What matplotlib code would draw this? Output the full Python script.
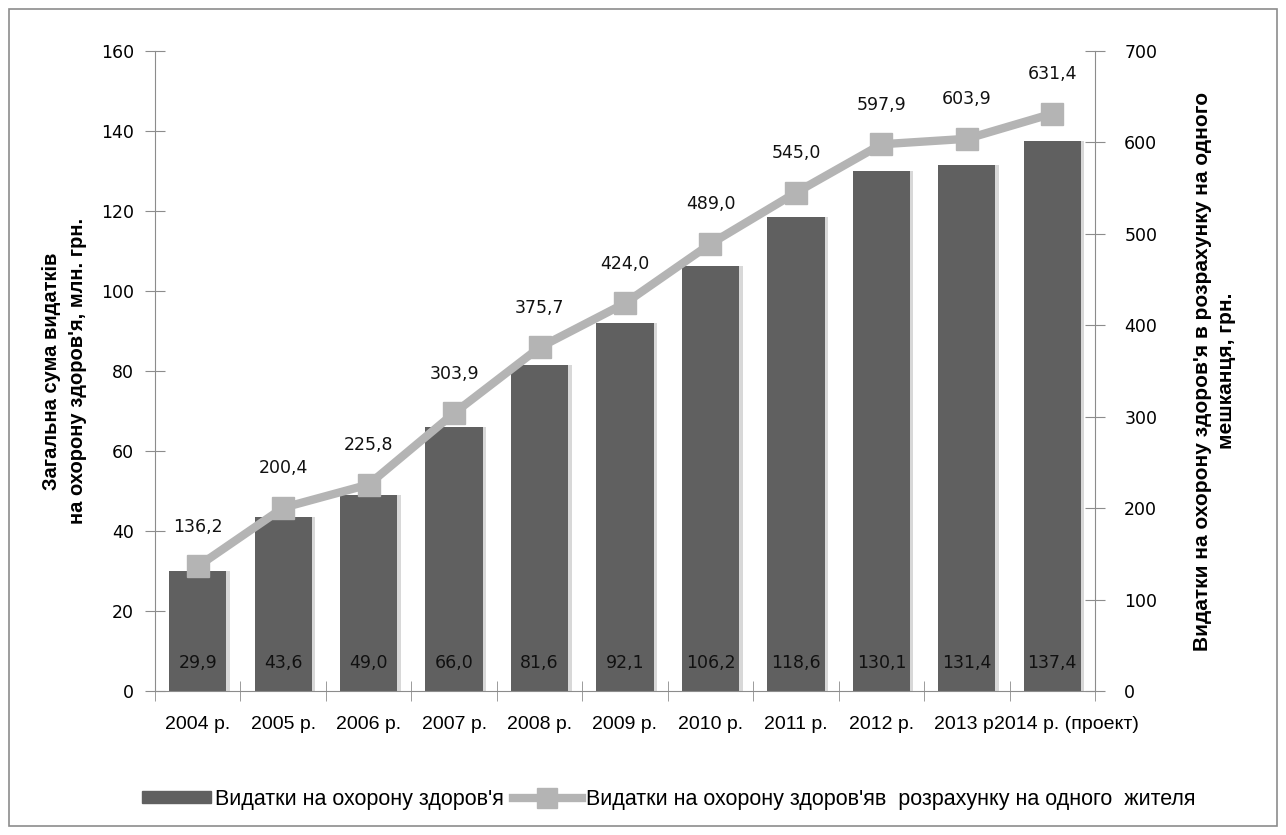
import matplotlib.pyplot as plt
from matplotlib.patches import Rectangle
from matplotlib.lines import Line2D
import numpy as np

years = ["2004 р.", "2005 р.", "2006 р.", "2007 р.", "2008 р.", "2009 р.",
         "2010 р.", "2011 р.", "2012 р.", "2013 р.", "2014 р. (проект)"]
total = [29.9, 43.6, 49.0, 66.0, 81.6, 92.1, 106.2, 118.6, 130.1, 131.4, 137.4]
per_capita = [136.2, 200.4, 225.8, 303.9, 375.7, 424.0, 489.0, 545.0, 597.9, 603.9, 631.4]

BAR = "#606060"
LINE = "#b4b4b4"
AXC = "#8c8c8c"
narrow = ["Liberation Sans", "DejaVu Sans"]


def fmt(v):
    return f"{v:.1f}".replace(".", ",")


fig = plt.figure(figsize=(12.86, 8.35), dpi=100)
fig.patches.append(Rectangle((0.007, 0.011), 0.986, 0.978, transform=fig.transFigure,
                             fill=False, edgecolor="#8c8c8c", linewidth=1.2))
ax = fig.add_axes([0.1205, 0.1725, 0.731, 0.7665])
x = np.arange(len(years))

# shadow + bars
ax.bar(x + 0.04, total, width=0.67, color="#d8d8d8", zorder=1)
ax.bar(x, total, width=0.67, color=BAR, zorder=2)
for i, v in enumerate(total):
    ax.text(i, 7, fmt(v), ha="center", va="center", fontsize=12.5, color="#111111", zorder=3)

ax.set_xlim(-0.5, len(years) - 0.5)
ax.set_ylim(0, 160)
ax.set_yticks(np.arange(0, 161, 20))
ax.set_xticks(x)
# last label is placed by hand, a bit to the right, so it does not run into 2013
ax.set_xticklabels(years[:-1] + [""], fontsize=14, family=narrow)
ax.annotate(years[-1], (x[-1], 0), xycoords=("data", "axes fraction"),
            xytext=(10, -18), textcoords="offset points", ha="center", va="top",
            fontsize=14, family=narrow)
ax.set_xticks(np.arange(-0.5, len(years), 1), minor=True)
ax.tick_params(axis="x", which="major", length=0, pad=18)
ax.tick_params(axis="x", which="minor", direction="inout", length=14, color=AXC)
ax.tick_params(axis="y", direction="inout", length=14, color=AXC, labelsize=12.5, pad=8)
for s in ["top", "right"]:
    ax.spines[s].set_visible(False)
for s in ["left", "bottom"]:
    ax.spines[s].set_color(AXC)
ax.set_ylabel("Загальна сума видатків\nна охорону здоров'я, млн. грн.", fontsize=14.5,
              fontweight="bold", family=narrow, labelpad=10, linespacing=1.5)

ax2 = ax.twinx()
ax2.plot(x, per_capita, color=LINE, linewidth=6, marker="s", markersize=16,
         markerfacecolor=LINE, markeredgecolor=LINE, zorder=4)
for i, v in enumerate(per_capita):
    ax2.annotate(fmt(v), (i, v), xytext=(0, 22), textcoords="offset points",
                 ha="center", va="bottom", fontsize=12.5, color="#111111")
ax2.set_ylim(0, 700)
ax2.set_yticks(np.arange(0, 701, 100))
ax2.tick_params(axis="y", direction="inout", length=14, color=AXC, labelsize=12.5, pad=14)
for s in ["top", "left", "bottom"]:
    ax2.spines[s].set_visible(False)
ax2.spines["right"].set_color(AXC)
ax2.set_ylabel("Видатки на охорону здоров'я в розрахунку на одного\nмешканця, грн.",
               fontsize=15, fontweight="bold", family=narrow, rotation=90, labelpad=26,
               linespacing=1.3)

handles = [Rectangle((0, 0), 1, 1, color=BAR),
           Line2D([], [], color=LINE, linewidth=6, marker="s", markersize=14)]
fig.legend(handles, ["Видатки на охорону здоров'я",
                     "Видатки на охорону здоров'яв  розрахунку на одного  жителя"],
           loc="center", bbox_to_anchor=(0.52, 0.043), ncol=2, frameon=False,
           prop={"family": narrow, "size": 15.5}, handlelength=3.2, handleheight=0.5,
           columnspacing=0.4, handletextpad=0.2)

fig.savefig("out.png", dpi=100)
